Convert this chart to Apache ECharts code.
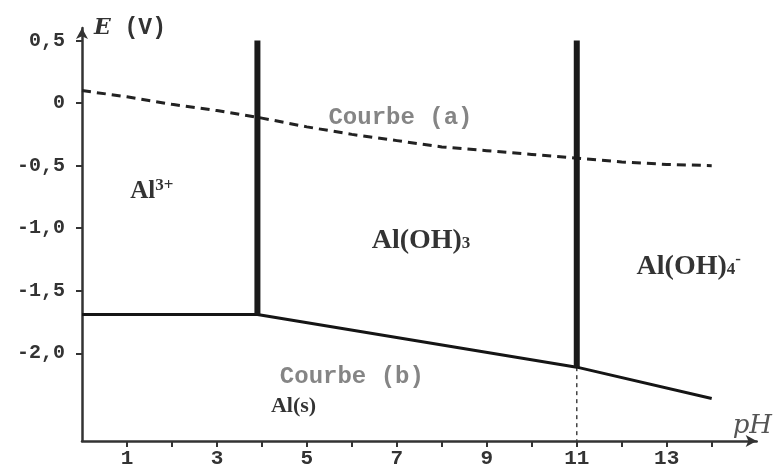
<!DOCTYPE html>
<html>
<head>
<meta charset="utf-8">
<script src="https://cdn.jsdelivr.net/npm/echarts@6/dist/echarts.min.js"></script>
<style>
  html, body { margin: 0; padding: 0; background: #fff; }
  #chart { width: 775px; height: 469px; }
</style>
</head>
<body>
<div id="chart"></div>
<script>
// ---- data ----
const pHA = [0, 1, 2, 3, 4, 5, 6, 7, 8, 9, 10, 11, 12, 13, 14];
const EA  = [0.10, 0.05, -0.01, -0.06, -0.12, -0.19, -0.25, -0.30, -0.35, -0.38, -0.41, -0.44, -0.47, -0.49, -0.50];
const pHB = [0, 3.9, 11, 14];
const EB  = [-1.69, -1.69, -2.11, -2.36];
const boundaryPH  = [3.9, 11];
const boundaryTop = [0.5, 0.5];
const boundaryBot = [-1.69, -2.11];
const yTickValues = [-2, -1.5, -1, -0.5, 0, 0.5];
const xTickValues = [1, 2, 3, 4, 5, 6, 7, 8, 9, 10, 11, 12, 13, 14];
const xLabelValues = [1, 3, 5, 7, 9, 11, 13];
const speciesLabels = [
  { name: 'Al3+',    pH: 1.07, E: -0.71, text: '{b|Al}{sup|3+}' },
  { name: 'AlOH3',   pH: 6.44, E: -1.10, text: '{bh|Al(OH)}{sub|3}' },
  { name: 'AlOH4-',  pH: 12.33, E: -1.31, text: '{bh|Al(OH)}{sub|4}{sup|-}' },
  { name: 'Als',     pH: 4.2,  E: -2.42, text: '{bs|Al(s)}' }
];
const curveLabels = [
  { name: 'Courbe (a)', pH: 7.08, E: -0.115 },
  { name: 'Courbe (b)', pH: 6.0,  E: -2.19 }
];
const yMin = -2.7, yMax = 0.6, xMin = 0, xMax = 15;

const monoFont = '"Liberation Mono", "DejaVu Sans Mono", monospace';
const serifFont = '"Liberation Serif", "Times New Roman", serif';

const chart = echarts.init(document.getElementById('chart'), null, { renderer: 'canvas' });

const series = [];
series.push({
  type: 'line', name: 'a', data: pHA.map((x, i) => [x, EA[i]]),
  symbol: 'none', lineStyle: { color: '#222', width: 3, type: [9, 6] }, z: 2, animation: false
});
series.push({
  type: 'line', name: 'b', data: pHB.map((x, i) => [x, EB[i]]),
  symbol: 'none', lineStyle: { color: '#151515', width: 3 }, z: 3, animation: false
});
boundaryPH.forEach((x, i) => {
  series.push({
    type: 'line', data: [[x, boundaryTop[i]], [x, boundaryBot[i]]],
    symbol: 'none', lineStyle: { color: '#1a1a1a', width: 6, cap: 'butt' }, z: 4, animation: false
  });
});
series.push({
  type: 'line', data: [[boundaryPH[1], boundaryBot[1]], [boundaryPH[1], yMin]],
  symbol: 'none', lineStyle: { color: '#444', width: 1.5, type: [4, 4] }, z: 2, animation: false
});
series.push({
  type: 'scatter', symbolSize: 0, z: 5, animation: false, silent: true,
  data: speciesLabels.map(d => ({ name: d.name, value: [d.pH, d.E] })),
  label: {
    show: true, position: 'right', distance: 0,
    formatter: p => speciesLabels[p.dataIndex].text,
    rich: {
      b:   { fontFamily: serifFont, fontWeight: 'bold', fontSize: 25, color: '#000', lineHeight: 30 },
      bh:  { fontFamily: serifFont, fontWeight: 'bold', fontSize: 28, color: '#000', lineHeight: 32 },
      bs:  { fontFamily: serifFont, fontWeight: 'bold', fontSize: 22, color: '#000', lineHeight: 26 },
      sup: { fontFamily: serifFont, fontWeight: 'bold', fontSize: 17, color: '#000', verticalAlign: 'top', lineHeight: 17 },
      sub: { fontFamily: serifFont, fontWeight: 'bold', fontSize: 17, color: '#000', verticalAlign: 'bottom', lineHeight: 17, padding: [0, 0, 5, 0] }
    }
  }
});
series.push({
  type: 'scatter', symbolSize: 0, z: 5, animation: false, silent: true,
  data: curveLabels.map(d => ({ name: d.name, value: [d.pH, d.E] })),
  label: {
    show: true, position: 'inside',
    formatter: p => p.name,
    fontFamily: monoFont, fontWeight: 'bold', fontSize: 24, color: '#666'
  }
});

const option = {
  backgroundColor: '#fff',
  animation: false,
  grid: { left: 82, right: 14, top: 28, bottom: 27, containLabel: false },
  xAxis: {
    type: 'value', min: xMin, max: xMax,
    name: 'pH', nameLocation: 'end', nameGap: -24,
    nameTextStyle: { fontFamily: '"DejaVu Serif", serif', fontStyle: 'italic', fontSize: 26, color: '#555',
                     align: 'left', verticalAlign: 'bottom', padding: [0, 0, 2, 0] },
    axisLine: { show: true, onZero: false, lineStyle: { color: '#333', width: 2.5 },
                symbol: ['none', 'arrow'], symbolSize: [9, 11] },
    axisTick: { show: true, inside: false, length: 6, customValues: xTickValues, lineStyle: { color: '#333', width: 2 } },
    axisLabel: { show: true, customValues: xLabelValues, margin: 7,
                 fontFamily: monoFont, fontWeight: 'bold', fontSize: 21, color: '#333' },
    splitLine: { show: false }
  },
  yAxis: {
    type: 'value', min: yMin, max: yMax,
    name: '{i|E} (V)', nameLocation: 'end', nameGap: 0,
    nameTextStyle: { fontFamily: monoFont, fontWeight: 'bold', fontSize: 23, color: '#333',
                     align: 'left', verticalAlign: 'middle', padding: [0, 0, 0, 12],
                     rich: { i: { fontFamily: '"DejaVu Serif", serif', fontStyle: 'italic', fontWeight: 'bold', fontSize: 22, color: '#333' } } },
    axisLine: { show: true, onZero: false, lineStyle: { color: '#333', width: 2.5 },
                symbol: ['none', 'arrow'], symbolSize: [9, 11] },
    axisTick: { show: true, inside: false, length: 6, customValues: yTickValues, lineStyle: { color: '#333', width: 2 } },
    axisLabel: { show: true, customValues: yTickValues, margin: 17,
                 fontFamily: monoFont, fontWeight: 'bold', fontSize: 20, color: '#333',
                 formatter: v => (Math.abs(v) < 1e-9 ? '0' : v.toFixed(1).replace('.', ',')) },
    splitLine: { show: false }
  },
  series: series
};
chart.setOption(option);
</script>
</body>
</html>
